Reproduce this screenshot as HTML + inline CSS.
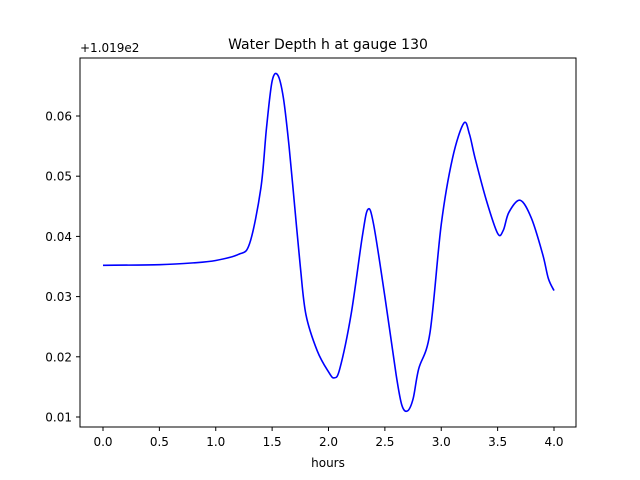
<!DOCTYPE html>
<html><head><meta charset="utf-8"><style>
body{margin:0;background:#fff}
svg{display:block;font-family:"DejaVu Sans","Liberation Sans",sans-serif}
</style></head><body>
<svg id="chart" width="640" height="480">
<rect width="640" height="480" fill="#fff"/>
<text x="328" y="49" font-size="14" text-anchor="middle">Water Depth h at gauge 130</text>
<text x="80" y="52" font-size="12">+1.019e2</text>
<g id="ticks"></g>
<path id="line" fill="none" stroke="#0000ff" stroke-width="1.6"/>
<rect x="80" y="58" width="496" height="369" fill="none" stroke="#000" stroke-width="1"/>
<text x="328" y="467" font-size="12" text-anchor="middle">hours</text>
</svg>
<script>
const hours=[0,0.5,0.8,1.0,1.2,1.3,1.4,1.45,1.5,1.55,1.6,1.65,1.7,1.75,1.8,1.9,2.0,2.05,2.1,2.2,2.3,2.35,2.4,2.5,2.6,2.65,2.7,2.75,2.8,2.9,3.0,3.1,3.2,3.25,3.3,3.4,3.5,3.55,3.6,3.7,3.8,3.9,3.95,4.0];
const depth=[0.0352,0.0353,0.0356,0.0360,0.0370,0.0388,0.048,0.058,0.0658,0.0668,0.063,0.055,0.045,0.035,0.027,0.021,0.0175,0.0165,0.018,0.027,0.040,0.0445,0.042,0.030,0.017,0.012,0.011,0.013,0.018,0.024,0.042,0.053,0.0588,0.057,0.053,0.046,0.0405,0.041,0.044,0.046,0.043,0.037,0.033,0.031];
const xTicks=[0,0.5,1.0,1.5,2.0,2.5,3.0,3.5,4.0];
const xTickLabels=["0.0","0.5","1.0","1.5","2.0","2.5","3.0","3.5","4.0"];
const yTicks=[0.01,0.02,0.03,0.04,0.05,0.06];
const yTickLabels=["0.01","0.02","0.03","0.04","0.05","0.06"];
const xs=v=>103+v*112.75;
const ys=v=>417-(v-0.01)*6020;
const NS="http://www.w3.org/2000/svg";
const g=document.getElementById('ticks');
xTicks.forEach((t,i)=>{
 const l=document.createElementNS(NS,'line');
 
 
 l.setAttribute('x1',xs(t));l.setAttribute('x2',xs(t));l.setAttribute('y1',427);l.setAttribute('y2',431);l.setAttribute('stroke','#000');
 g.appendChild(l);
 const tx=document.createElementNS(NS,'text');
 
 
 tx.setAttribute('x',xs(t));tx.setAttribute('y',446);tx.setAttribute('font-size','12');tx.setAttribute('text-anchor','middle');
 tx.textContent=xTickLabels[i];g.appendChild(tx);
});
yTicks.forEach((t,i)=>{
 const l=document.createElementNS(NS,'line');
 
 
 l.setAttribute('x1',76);l.setAttribute('x2',80);l.setAttribute('y1',ys(t));l.setAttribute('y2',ys(t));l.setAttribute('stroke','#000');
 g.appendChild(l);
 const tx=document.createElementNS(NS,'text');
 
 
 tx.setAttribute('x',72);tx.setAttribute('y',ys(t)+4.5);tx.setAttribute('font-size','12');tx.setAttribute('text-anchor','end');
 tx.textContent=yTickLabels[i];g.appendChild(tx);
});
const P=hours.map((h,i)=>[xs(h),ys(depth[i])]);
let d='M'+P[0][0]+','+P[0][1];
for(let i=0;i<P.length-1;i++){
 const p0=P[Math.max(0,i-1)],p1=P[i],p2=P[i+1],p3=P[Math.min(P.length-1,i+2)];
 const c1=[p1[0]+(p2[0]-p0[0])/6,p1[1]+(p2[1]-p0[1])/6];
 const c2=[p2[0]-(p3[0]-p1[0])/6,p2[1]-(p3[1]-p1[1])/6];
 d+=' C'+c1+' '+c2+' '+p2;
}
document.getElementById('line').setAttribute('d',d);
</script>
</body></html>
